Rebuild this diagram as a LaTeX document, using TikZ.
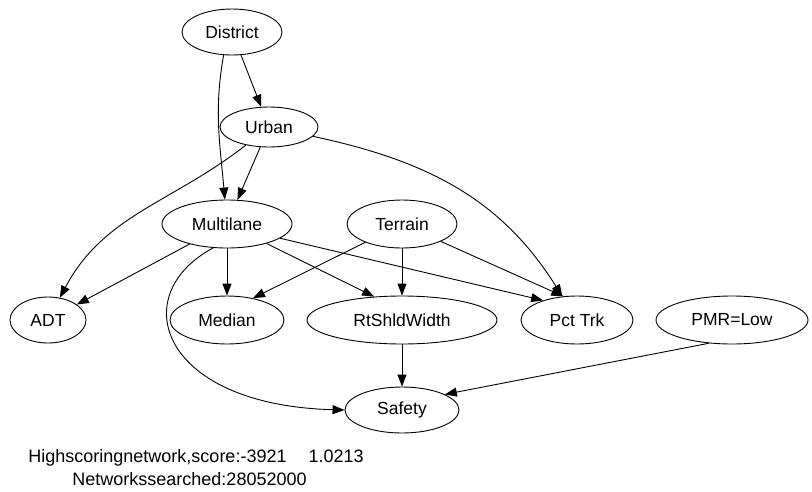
\documentclass[tikz,border=0pt]{standalone}
\usepackage{fontspec}
\setmainfont{Liberation Sans}
\usetikzlibrary{shapes.geometric,arrows.meta}
\begin{document}
\begin{tikzpicture}[x=1pt,y=-1pt,
  vnode/.style={draw,ellipse,inner sep=0pt,minimum height=46pt,font=\fontsize{17.5}{20}\selectfont},
  lbl/.style={anchor=base west,inner sep=0pt,font=\fontsize{18}{20}\selectfont},
  edge/.style={draw,line width=0.9pt,-{Triangle[length=12pt,width=9pt]}},
  every node/.append style={line width=0.9pt}]
\useasboundingbox (0,0) rectangle (812,491);
\node[vnode,minimum width=100pt] (District) at (232,32) {District};
\node[vnode,minimum width=98pt,minimum height=40pt] (Urban) at (269,127) {Urban};
\node[vnode,minimum width=130pt,minimum height=48pt] (Multilane) at (227,224) {Multilane};
\node[vnode,minimum width=110pt,minimum height=48pt] (Terrain) at (402,224) {Terrain};
\node[vnode,minimum width=76pt] (ADT) at (48,320) {ADT};
\node[vnode,minimum width=114pt,minimum height=48pt] (Median) at (227,320) {Median};
\node[vnode,minimum width=190pt,minimum height=48pt] (RtShld) at (402,320) {RtShldWidth};
\node[vnode,minimum width=112pt,minimum height=48pt] (PctTrk) at (577,320) {Pct Trk};
\node[vnode,minimum width=152pt,minimum height=48pt] (PMR) at (732,320) {PMR=Low};
\node[vnode,minimum width=114pt] (Safety) at (402,410) {Safety};
\node[lbl] (t1) at (28,462) {Highscoringnetwork,score:-3921\hspace{22pt}1.0213};
\node[lbl] (t2) at (72,485) {Networkssearched:28052000};
\path[edge] (District) -- (Urban);
\path[edge] (District.250) to[out=-100,in=95] (Multilane.95);
\path[edge] (Urban) -- (Multilane);
\path[edge] (Urban) to[out=218,in=62] (ADT);
\path[edge] (Urban) to[out=-12,in=122] (PctTrk);
\path[edge] (Multilane) -- (ADT);
\path[edge] (Multilane.240) .. controls (125,295) and (160,405) .. (Safety.west);
\path[edge] (Multilane) -- (Median);
\path[edge] (Multilane) -- (RtShld.140);
\path[edge] (Multilane.-15) -- (PctTrk.150);
\path[edge] (Terrain) -- (Median.40);
\path[edge] (Terrain) -- (RtShld);
\path[edge] (Terrain) -- (PctTrk.120);
\path[edge] (RtShld) -- (Safety);
\path[edge] (PMR.225) -- (Safety.20);
\end{tikzpicture}
\end{document}
